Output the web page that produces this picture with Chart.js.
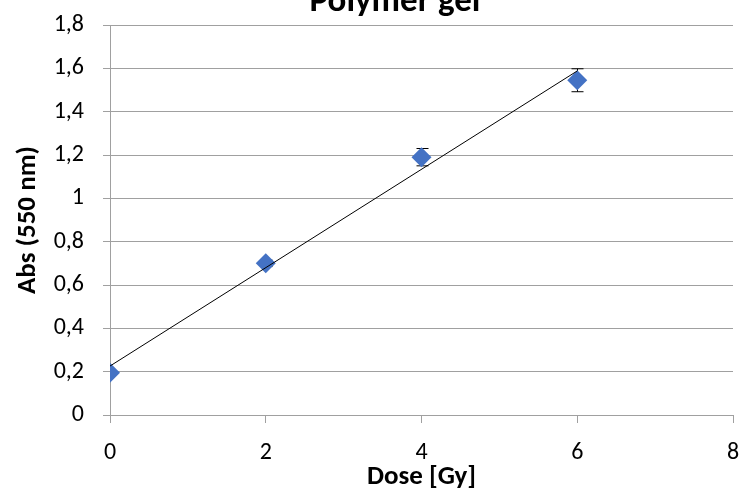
<!DOCTYPE html>
<html>
<head>
<meta charset="utf-8">
<script src="https://cdn.jsdelivr.net/npm/chart.js@4.4.0/dist/chart.umd.min.js"></script>
<style>
  html, body { margin: 0; padding: 0; background: #fff; }
  #wrap { width: 749px; height: 493px; position: relative; }
</style>
</head>
<body>
<div id="wrap"><canvas id="gelChart"></canvas></div>
<script>
// Chart data
const doses = [0, 2, 4, 6];
const absorbance = [0.195, 0.70, 1.19, 1.545];
const absError = [0, 0.015, 0.04, 0.053];
const trendX = [0, 6];
const trendY = [0.226, 1.588];
const xTickLabels = ['0', '2', '4', '6', '8'];
const yTickLabels = ['0', '0,2', '0,4', '0,6', '0,8', '1', '1,2', '1,4', '1,6', '1,8'];

const FONT = 'Carlito, Lato, sans-serif';
const GRID = '#a0a0a0';

// error bars drawn from data through the scales
const errorBars = {
    id: 'errorBars',
    beforeDatasetsDraw(chart) {
        const ctx = chart.ctx;
        const xs = chart.scales.x, ys = chart.scales.y;
        ctx.save();
        ctx.strokeStyle = '#000';
        ctx.lineWidth = 1;
        doses.forEach((d, i) => {
            if (!absError[i]) return;
            const px = Math.round(xs.getPixelForValue(d)) + 0.5;
            const top = ys.getPixelForValue(absorbance[i] + absError[i]);
            const bot = ys.getPixelForValue(absorbance[i] - absError[i]);
            ctx.beginPath();
            ctx.moveTo(px, top); ctx.lineTo(px, bot);
            ctx.moveTo(px - 6, top); ctx.lineTo(px + 6, top);
            ctx.moveTo(px - 6, bot); ctx.lineTo(px + 6, bot);
            ctx.stroke();
        });
        ctx.restore();
    }
};

// title sits partly above the canvas like in the original
const topTitle = {
    id: 'topTitle',
    afterDraw(chart) {
        const ctx = chart.ctx;
        ctx.save();
        ctx.font = 'bold 35px ' + FONT;
        ctx.fillStyle = '#000';
        ctx.textAlign = 'center';
        ctx.textBaseline = 'alphabetic';
        ctx.fillText('Polymer gel', 395, 11);
        ctx.restore();
    }
};

new Chart(document.getElementById('gelChart'), {
    type: 'scatter',
    data: {
        datasets: [{
            type: 'line',
            label: 'Trend',
            data: trendX.map((x, i) => ({ x: x, y: trendY[i] })),
            borderColor: '#000',
            borderWidth: 1,
            pointRadius: 0,
            fill: false
        }, {
            label: 'Polymer gel',
            data: doses.map((x, i) => ({ x: x, y: absorbance[i] })),
            pointStyle: 'rectRot',
            pointRadius: 10,
            pointHoverRadius: 10,
            backgroundColor: '#4472c4',
            borderColor: '#4472c4',
            borderWidth: 0
        }]
    },
    options: {
        responsive: true,
        maintainAspectRatio: false,
        animation: false,
        layout: { padding: { top: 25, right: 16, left: 0, bottom: 0 } },
        plugins: {
            legend: { display: false },
            title: { display: false },
            tooltip: { enabled: false }
        },
        scales: {
            x: {
                type: 'linear',
                min: 0,
                max: 8,
                afterFit: s => { s.height = 78; s.paddingLeft = 0; s.paddingRight = 0; },
                ticks: {
                    stepSize: 2,
                    color: '#000',
                    padding: 16,
                    font: { family: FONT, size: 24 },
                    callback: (v, i) => xTickLabels[i]
                },
                grid: { drawOnChartArea: false, drawTicks: true, tickLength: 8, color: GRID },
                border: { display: true, color: GRID },
                title: {
                    display: true,
                    text: 'Dose [Gy]',
                    color: '#000',
                    font: { family: FONT, size: 27, weight: 'bold' },
                    padding: { top: 1, bottom: 0 }
                }
            },
            y: {
                min: 0,
                max: 1.8,
                afterFit: s => { s.width = 110; s.paddingTop = 0; s.paddingBottom = 0; },
                ticks: {
                    stepSize: 0.2,
                    color: '#000',
                    padding: 19,
                    font: { family: FONT, size: 24 },
                    callback: (v, i) => yTickLabels[i]
                },
                grid: { drawTicks: true, tickLength: 7, color: GRID },
                border: { display: true, color: GRID },
                title: {
                    display: true,
                    text: 'Abs (550 nm)',
                    color: '#000',
                    font: { family: FONT, size: 27, weight: 'bold' },
                    padding: { top: 12, bottom: 0 }
                }
            }
        }
    },
    plugins: [errorBars, topTitle]
});
</script>
</body>
</html>
